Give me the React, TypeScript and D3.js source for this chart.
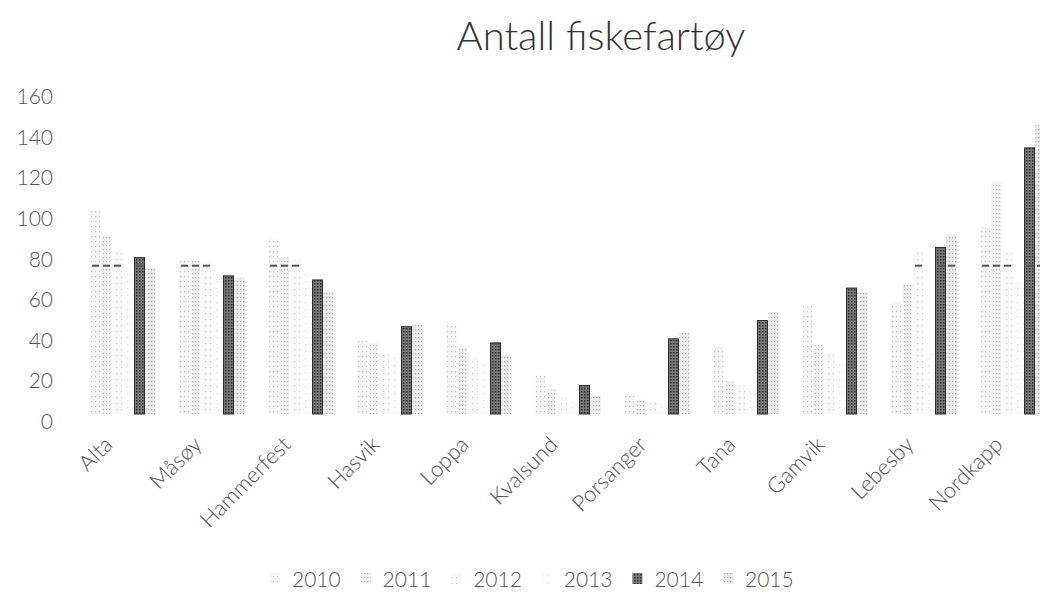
import React from "react";
import * as d3 from "d3";

const categories = ["Alta", "Måsøy", "Hammerfest", "Hasvik", "Loppa", "Kvalsund", "Porsanger", "Tana", "Gamvik", "Lebesby", "Nordkapp"];
const seriesNames = ["2010", "2011", "2012", "2013", "2014", "2015"];
const v2010 = [100, 76, 86, 36, 45, 19, 10, 33, 53, 55, 92];
const v2011 = [88, 76, 77, 35, 33, 12, 7, 16, 34, 64, 114];
const v2012 = [80, 75, 76, 30, 28, 8, 6, 14, 30, 80, 80];
const v2013 = [72, 70, 70, 28, 25, 6, 5, 12, 25, 30, 65];
const v2014 = [77, 68, 66, 43, 35, 14, 37, 46, 62, 82, 131];
const v2015 = [72, 67, 60, 44, 29, 9, 40, 50, 60, 88, 143];
const yTicks = [0, 20, 40, 60, 80, 100, 120, 140, 160];
const refLevel = 73;

const seriesValues = [v2010, v2011, v2012, v2013, v2014, v2015];

// halftone-like fills (scanned look): background, dot colour, dot spacing
const patBg = ["#f6f6f6", "#f3f3f3", "#f8f8f8", "#fbfbfb", "#7a7a7a", "#ececec"];
const patDot = ["#c4c4c4", "#b4b4b4", "#d2d2d2", "#e4e4e4", "#2a2a2a", "#a8a8a8"];
const patW = [4, 3, 5, 6, 3, 3];
const patH = [5, 4, 6, 7, 3, 4];
const strokes = ["none", "none", "none", "none", "#2e2e2e", "none"];

const W = 1040;
const H = 611;
const FONT = "Lato, 'Open Sans', 'DejaVu Sans', sans-serif";

export default function App() {
  const x0 = d3.scaleBand<string>().domain(categories).range([78.5, 1057.5]).paddingInner(0.258).paddingOuter(0.129);
  const x1 = d3.scaleBand<string>().domain(seriesNames).range([0, x0.bandwidth()]);
  const y = d3.scaleLinear().domain([0, 160]).range([414, 89]);

  const legendStart = 292;
  const legendStep = 90.6;

  return (
    <svg width={W} height={H} style={{ position: "absolute", left: 0, top: 0, background: "#fff" }} fontFamily={FONT}>
      <defs>
        {seriesNames.map((s, si) => (
          <pattern key={s} id={`pat${s}`} patternUnits="userSpaceOnUse" width={patW[si]} height={patH[si]}>
            <rect x={0} y={0} width={patW[si]} height={patH[si]} fill={patBg[si]} />
            <rect x={1} y={1} width={si === 4 ? 1.5 : 1.2} height={si === 4 ? 1.5 : 1.2} fill={patDot[si]} />
          </pattern>
        ))}
      </defs>
      <rect x={0} y={0} width={W} height={H} fill="#fff" />
      <text x={601} y={50} textAnchor="middle" fontSize={40} fontWeight={300} fill="#333">
        Antall fiskefartøy
      </text>

      {yTicks.map((t) => (
        <text key={t} x={53} y={y(t) + 15} textAnchor="end" fontSize={21} fontWeight={300} fill="#555">
          {t}
        </text>
      ))}

      {categories.map((c, ci) => (
        <g key={c} transform={`translate(${x0(c)},0)`}>
          {seriesNames.map((s, si) => {
            const v = seriesValues[si][ci];
            const bx = x1(s) as number;
            const bw = x1.bandwidth();
            return (
              <g key={s}>
                <rect
                  x={bx + 0.5}
                  y={y(v)}
                  width={bw - 1}
                  height={y(0) - y(v)}
                  fill={`url(#pat${s})`}
                  stroke={strokes[si]}
                  strokeWidth={1}
                />
                {v > refLevel && (
                  <line x1={bx + 2} x2={bx + bw - 2} y1={y(refLevel)} y2={y(refLevel)} stroke="#555" strokeWidth={2} />
                )}
              </g>
            );
          })}
        </g>
      ))}

      {categories.map((c) => {
        const cx = (x0(c) as number) + x0.bandwidth() / 2;
        return (
          <text
            key={c}
            transform={`translate(${cx - 9},446) rotate(-45)`}
            textAnchor="end"
            fontSize={22}
            fontWeight={300}
            fill="#555"
          >
            {c}
          </text>
        );
      })}

      {seriesNames.map((s, si) => {
        const tx = legendStart + si * legendStep;
        return (
          <g key={s}>
            <rect x={tx - 22} y={573} width={10} height={11} fill={`url(#pat${s})`} />
            <text x={tx} y={587} fontSize={21} fontWeight={300} fill="#555">
              {s}
            </text>
          </g>
        );
      })}
    </svg>
  );
}
